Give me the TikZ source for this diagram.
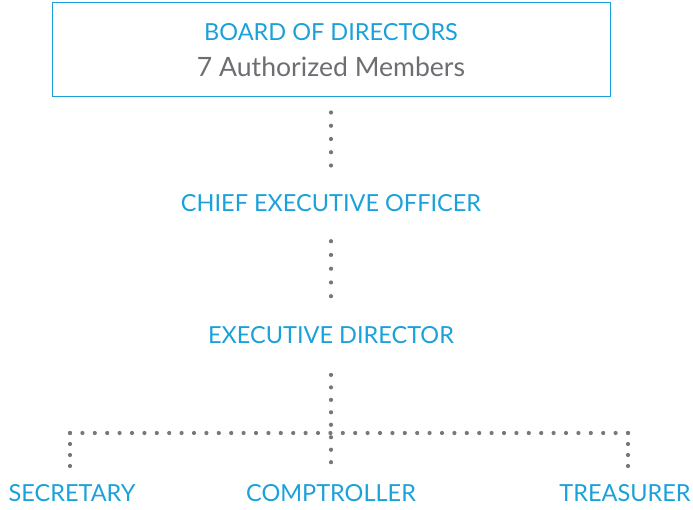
\documentclass[tikz,border=0pt]{standalone}
\usepackage{fontspec}
\setmainfont{Lato}
\definecolor{orgblue}{HTML}{1BA1D9}
\definecolor{orggrey}{HTML}{6D6E71}
\definecolor{dotgrey}{HTML}{77777A}
\begin{document}
\begin{tikzpicture}[x=1pt,y=1pt,
  role/.style={inner sep=0pt, text height=16pt, text depth=0pt, text=orgblue,
    font=\fontsize{23.5}{28}\selectfont},
  note/.style={inner sep=0pt, text height=16pt, text depth=0pt, text=orggrey,
    font=\fontsize{26.6}{31}\selectfont},
  % round dots; the path runs 2pt past its last dot so that dot is kept
  dotsv/.style={draw=dotgrey, line width=4.2pt, line cap=round,
    dash pattern=on 0pt off #1, shorten >=-2pt},
  dotsv/.default=12.5pt]
\useasboundingbox (0,0) rectangle (693,-510);

% board box
\node[draw=orgblue, line width=1pt, minimum width=558pt, minimum height=94pt, inner sep=0pt]
  (board) at (331,-50) {};
\node[role] (boardtitle) at (331,-33) {BOARD OF DIRECTORS};
\node[note] (boardsub) at (331,-69) {7 Authorized Members};

% officers
\node[role] (ceo) at (331,-204) {CHIEF EXECUTIVE OFFICER};
\node[role] (ed) at (331,-336) {EXECUTIVE DIRECTOR};
\node[role] (sec) at (72,-493) {SECRETARY};
\node[role] (comp) at (331,-493) {COMPTROLLER};
\node[role] (tre) at (625,-493) {TREASURER};

% branch corners
\coordinate (hl) at (70,-433);
\coordinate (hr) at (628,-433);

% dotted connectors
\draw[dotsv=13.25pt] ([yshift=-15pt]board.south) -- ([yshift=31pt]ceo.north);
\draw[dotsv=13.75pt] ([yshift=-29pt]ceo.south) -- ([yshift=32pt]ed.north);
\draw[dotsv=12.47pt] ([yshift=-30.7pt]ed.south) -- ([yshift=23pt]comp.north);
\draw[dotsv=12.4pt] (hl) -- (hr);
\draw[dotsv=11pt] (hl) -- ([yshift=19pt]sec.north -| hl);
\draw[dotsv=11pt] (hr) -- ([yshift=19pt]tre.north -| hr);
\end{tikzpicture}
\end{document}
